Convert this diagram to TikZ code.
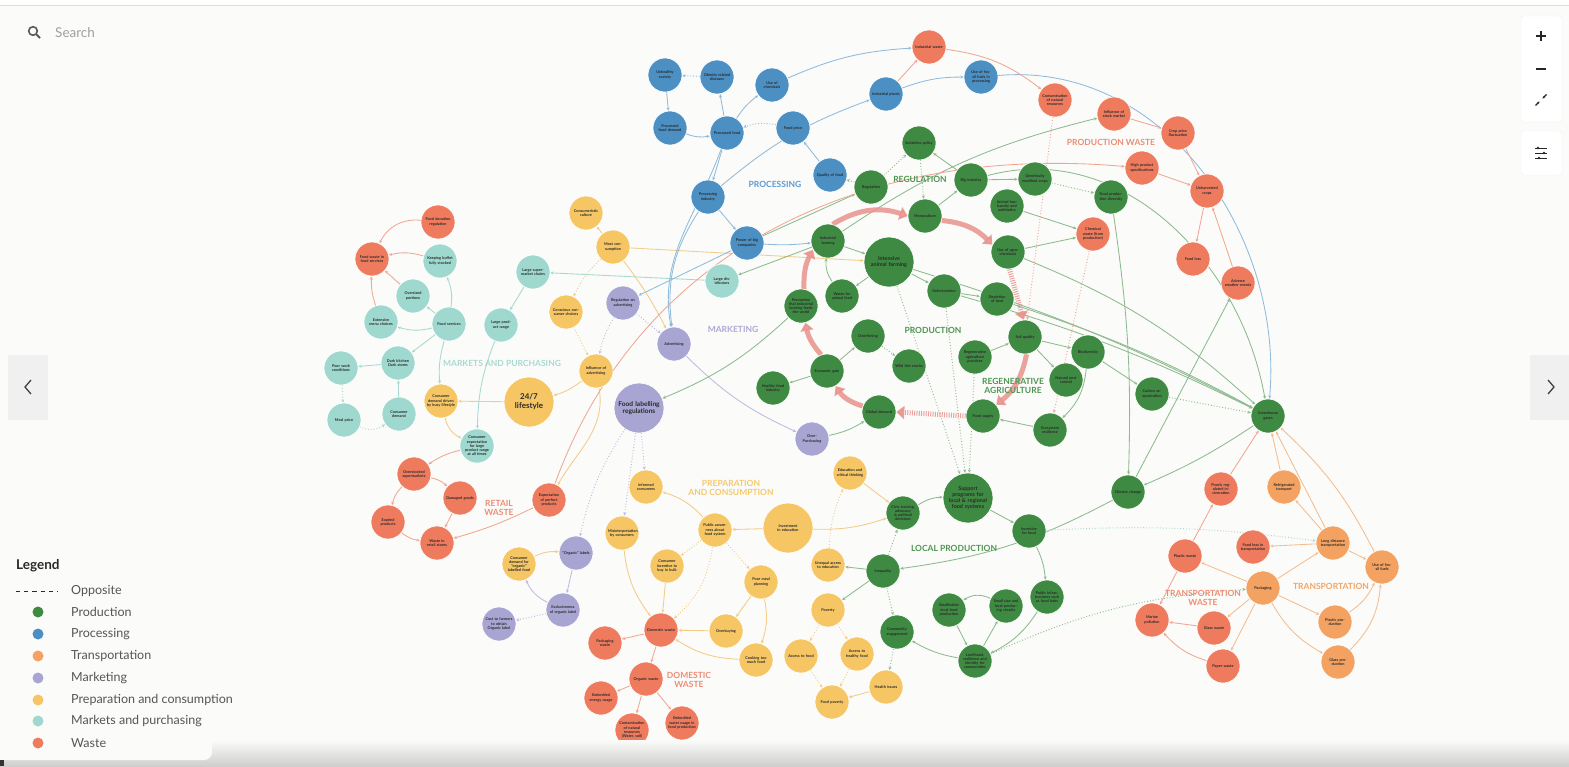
\documentclass[tikz,border=0pt]{standalone}
\usepackage{fontspec}
\setmainfont{Lato}
\usetikzlibrary{arrows.meta,calc}
\definecolor{bgc}{HTML}{FBFBF9}
\definecolor{cP}{HTML}{3E8A42}
\definecolor{cB}{HTML}{4B8FC3}
\definecolor{cT}{HTML}{F3A261}
\definecolor{cM}{HTML}{A8A5D3}
\definecolor{cY}{HTML}{F6C665}
\definecolor{cK}{HTML}{9ED8CE}
\definecolor{cW}{HTML}{EE7B5E}
\definecolor{lP}{HTML}{8DBA8F}
\definecolor{lB}{HTML}{90BBDC}
\definecolor{lT}{HTML}{F4BD90}
\definecolor{lM}{HTML}{BFBBE0}
\definecolor{lY}{HTML}{F3CC88}
\definecolor{lK}{HTML}{A6D9D0}
\definecolor{lW}{HTML}{F1A693}
\definecolor{tP}{HTML}{4E9552}
\definecolor{tB}{HTML}{5B9BD0}
\definecolor{tT}{HTML}{F2A566}
\definecolor{tM}{HTML}{ACA8D6}
\definecolor{tY}{HTML}{F5C86E}
\definecolor{tK}{HTML}{A6DAD2}
\definecolor{tW}{HTML}{EC8C75}
\definecolor{txt}{HTML}{2A2A2A}
\definecolor{thk}{HTML}{E9928C}
\definecolor{legtxt}{HTML}{555555}
\newcommand\nf{\fontsize{3.8}{4.2}\selectfont\bfseries}
\pgfdeclarelayer{back}
\pgfdeclarelayer{edges}
\pgfsetlayers{back,edges,main}
\tikzset{
 n/.style={circle, inner sep=0pt, minimum size=34pt, text width=28pt, align=center, font=\nf, text=txt, draw=white, line width=0.6pt},
 gP/.style={n, fill=cP}, gB/.style={n, fill=cB}, gT/.style={n, fill=cT}, gM/.style={n, fill=cM},
 gY/.style={n, fill=cY}, gK/.style={n, fill=cK}, gW/.style={n, fill=cW},
 bignode/.style={minimum size=50pt, text width=40pt},
 lab/.style={font=\fontsize{8.5}{9.4}\selectfont\bfseries, align=center},
 ar/.style={-{Stealth[length=3.4pt,width=3pt]}, line width=0.85pt},
 eP/.style={ar, draw=lP}, eB/.style={ar, draw=lB}, eT/.style={ar, draw=lT}, eM/.style={ar, draw=lM},
 eY/.style={ar, draw=lY}, eK/.style={ar, draw=lK}, eW/.style={ar, draw=lW},
 dt/.style={dotted, line width=1pt},
 tk/.style={draw=thk, line width=5pt, -{Triangle[length=8pt,width=13pt]}, draw opacity=0.85, fill opacity=0.85},
 tkd/.style={tk, dash pattern=on 1pt off 1.3pt},
 legt/.style={anchor=west, font=\fontsize{12.5}{14}\selectfont, text=legtxt, inner sep=0pt},
}
\begin{document}
\begin{tikzpicture}[x=1pt,y=-1pt]
\useasboundingbox (0,0) rectangle (1569,766);
\begin{pgfonlayer}{back}
\fill[bgc] (0,0) rectangle (1569,766);
\fill[white] (0,0) rectangle (1569,5);
\draw[gray!25] (0,5) -- (1569,5);
\end{pgfonlayer}

% ---------------- Markets and purchasing
\node[gW] (fdr) at (438,222) {Food donation regulation};
\node[gW] (fwfs) at (372,259) {Food waste in food services};
\node[gK] (kbfs) at (440,261) {Keeping buffet fully stocked};
\node[gK] (osp) at (413,296) {Oversized portions};
\node[gK] (emc) at (381,322) {Extensive menu choices};
\node[gK] (fsv) at (449,324) {Food services};
\node[gK] (dkd) at (398,363) {Dark kitchen Dark stores};
\node[gK] (pwc) at (341,368) {Poor work conditions};
\node[gK] (mpr) at (344,420) {Meal price};
\node[gK] (cdm) at (399,414) {Consumer demand};
\node[gY] (cdb) at (441,401) {Consumer demand driven by busy lifestyle};
\node[gY, bignode, font=\fontsize{8}{9}\selectfont\bfseries, text width=46pt] (l247) at (529,402) {24/7 lifestyle};
\node[gK] (cel) at (477,446) {Consumer expectation for large product range at all times};
\node[gK] (lpr) at (501,325) {Large product range};
\node[gK] (lsc) at (533,272) {Large supermarket chains};
\node[gY] (ccu) at (586,213) {Consumeristic culture};
\node[gY] (mcn) at (613,247) {Meat consumption};
\node[gY] (ccc) at (566,312) {Conscious consumer choices};
\node[gY] (iad) at (596,371) {Influence of advertising};
\node[gM] (rad) at (623,303) {Regulation on advertising};
\node[gM] (adv) at (674,344) {Advertising};
\node[gK] (ldi) at (722,281) {Large distributors};
\node[gM, bignode, font=\fontsize{6.6}{7.4}\selectfont\bfseries, text width=46pt] (flr) at (639,408) {Food labelling regulations};
\node[gM] (ovp) at (812,439) {Over-Purchasing};

% ---------------- Retail waste
\node[gW] (oss) at (414,474) {Overstocked supermarkets};
\node[gW] (dgo) at (460,498) {Damaged goods};
\node[gW] (exp) at (388,522) {Expired products};
\node[gW] (wrs) at (437,543) {Waste in retail stores};
\node[gW] (epp) at (549,500) {Expectation of perfect products};

% ---------------- Preparation and consumption
\node[gY] (inc) at (646,487) {Informed consumers};
\node[gY] (cdo) at (519,564) {Consumer demand for ``organic'' labelled food};
\node[gM] (olb) at (576,553) {``Organic'' labels};
\node[gM] (exo) at (563,610) {Exclusiveness of organic label};
\node[gM] (ctf) at (499,624) {Cost to farmers to obtain Organic label};
\node[gY] (mis) at (622,533) {Misinterpretation by consumers};
\node[gY] (pas) at (715,530) {Public awareness about food system};
\node[gY, bignode] (ied) at (788,528) {Investment in education};
\node[gY] (cib) at (667,566) {Consumer incentive to buy in bulk};
\node[gY] (ect) at (850,473) {Education and critical thinking};
\node[gY] (pmp) at (761,582) {Poor meal planning};
\node[gY] (ovb) at (726,631) {Overbuying};
\node[gY] (ctm) at (756,660) {Cooking too much food};
\node[gW] (dws) at (661,630) {Domestic waste};
\node[gW] (pkw) at (605,643) {Packaging waste};
\node[gW] (orw) at (646,679) {Organic waste};
\node[gW] (eeu) at (601,698) {Embedded energy usage};
\node[gW] (cnrb) at (632,730) {Contamination of natural resources (Water, soil)};
\node[gW] (ewu) at (682,723) {Embedded water usage in food production};
\node[gY] (uae) at (828,565) {Unequal access to education};
\node[gY] (pov) at (828,610) {Poverty};
\node[gY] (atf) at (801,656) {Access to food};
\node[gY] (ahf) at (857,654) {Access to healthy food};
\node[gY] (fpv) at (832,702) {Food poverty};
\node[gY] (his) at (886,687) {Health issues};

% ---------------- Local production
\node[gP] (cta) at (903,513) {Civic training, advocacy \& political decisions};
\node[gP, bignode, font=\fontsize{5.4}{6}\selectfont\bfseries] (spl) at (968,498) {Support programs for local \& regional food systems};
\node[gP] (ifl) at (1029,531) {Incentive for local};
\node[gP] (ineq) at (883,571) {Inequality};
\node[gP] (pif) at (1047,597) {Public infrastructures such as food hubs};
\node[gP] (ssc) at (1006,606) {Small size and local producing circuits};
\node[gP] (slf) at (949,610) {Smallholder local food production};
\node[gP] (ceg) at (897,632) {Community engagement};
\node[gP] (lrc) at (975,661) {Livelihood, resilience and identity for communities};

% ---------------- Production
\node[gP] (ifa) at (828,241) {Industrial farming};
\node[gP, bignode, font=\fontsize{5.4}{6}\selectfont\bfseries] (iaf) at (889,262) {Intensive animal farming};
\node[gP] (mon) at (925,216) {Monoculture};
\node[gP] (uag) at (1008,252) {Use of agrochemicals};
\node[gP] (waf) at (842,296) {Waste for animal feed};
\node[gP] (per) at (801,306) {Perception that industrial farming feeds the world};
\node[gP] (def) at (944,291) {Deforestation};
\node[gP] (dol) at (997,299) {Depletion of land};
\node[gP] (ovf) at (868,336) {Overfishing};
\node[gP] (wfs) at (909,366) {Wild fish stocks};
\node[gP] (egn) at (827,371) {Economic gain};
\node[gP] (hfi) at (773,388) {Healthy food industry};
\node[gP] (gdm) at (879,412) {Global demand};
\node[gP] (soq) at (1025,337) {Soil quality};
\node[gP] (rap) at (975,357) {Regenerative agriculture practices};
\node[gP] (bio) at (1088,352) {Biodiversity};
\node[gP] (npc) at (1066,380) {Natural pest control};
\node[gP] (fsu) at (983,416) {Food supply};
\node[gP] (ecr) at (1050,430) {Ecosystem resilience};
\node[gP] (csq) at (1152,394) {Carbon sequestration};
\node[gP] (ghg) at (1268,416) {Greenhouse gases};
\node[gP] (clc) at (1128,492) {Climate change};

% ---------------- Regulation
\node[gP] (sub) at (919,143) {Subsidies policy};
\node[gP] (reg) at (871,187) {Regulation};
\node[gP] (big) at (971,180) {Big industry};
\node[gP] (gmc) at (1035,179) {Genetically modified crops};
\node[gP] (ahb) at (1007,206) {Animal husbandry and antibiotics};
\node[gP] (fpd) at (1111,197) {Food production diversity};

% ---------------- Production waste
\node[gW] (iws) at (929,47) {Industrial waste};
\node[gW] (cnr) at (1055,100) {Contamination of natural resources};
\node[gW] (ism) at (1114,114) {Influence of stock market};
\node[gW] (cpf) at (1178,133) {Crop price fluctuation};
\node[gW] (hps) at (1142,168) {High product specifications};
\node[gW] (uhc) at (1207,191) {Unharvested crops};
\node[gW] (chw) at (1093,234) {Chemical waste (from production)};
\node[gW] (fls) at (1193,259) {Food loss};
\node[gW] (awe) at (1238,283) {Adverse weather events};

% ---------------- Processing
\node[gB] (uhs) at (665,75) {Unhealthy society};
\node[gB] (ord) at (717,77) {Obesity related diseases};
\node[gB] (uch) at (772,85) {Use of chemicals};
\node[gB] (pfd) at (670,128) {Processed food demand};
\node[gB] (pfo) at (727,133) {Processed food};
\node[gB] (fpr) at (793,128) {Food price};
\node[gB] (qof) at (830,175) {Quality of food};
\node[gB] (pin) at (708,197) {Processing industry};
\node[gB] (pbc) at (747,243) {Power of big companies};
\node[gB] (ipl) at (886,94) {Industrial plants};
\node[gB] (uff) at (981,77) {Use of fossil fuels in processing};

% ---------------- Transportation
\node[gT] (rtr) at (1284,487) {Refrigerated transport};
\node[gT] (ldt) at (1333,543) {Long distance transportation};
\node[gT] (uft) at (1382,567) {Use of fossil fuels};
\node[gT] (pkg) at (1263,588) {Packaging};
\node[gT] (ppr) at (1335,622) {Plastic production};
\node[gT] (gpr) at (1338,662) {Glass production};
\node[gW] (pri) at (1221,489) {Poorly regulated incineration};
\node[gW] (flt) at (1253,547) {Food loss in transportation};
\node[gW] (plw) at (1185,556) {Plastic waste};
\node[gW] (mpo) at (1152,620) {Marine pollution};
\node[gW] (glw) at (1214,628) {Glass waste};
\node[gW] (pap) at (1223,666) {Paper waste};

% ---------------- Group labels
\node[lab, text=tB] (Lproc) at (775,184) {PROCESSING};
\node[lab, text=tP] (Lreg) at (920,179) {REGULATION};
\node[lab, text=tW] (Lpw) at (1111,142) {PRODUCTION WASTE};
\node[lab, text=tP] (Lprod) at (933,330) {PRODUCTION};
\node[lab, text=tP] (Lregen) at (1013,386) {REGENERATIVE\\AGRICULTURE};
\node[lab, text=tM] (Lmark) at (733,329) {MARKETING};
\node[lab, text=tK] (Lmkt) at (502,363) {MARKETS AND PURCHASING};
\node[lab, text=tW] (Lrw) at (499,508) {RETAIL\\WASTE};
\node[lab, text=tY] (Lprep) at (731,488) {PREPARATION\\AND CONSUMPTION};
\node[lab, text=tW] (Ldw) at (689,680) {DOMESTIC\\WASTE};
\node[lab, text=tP] (Llp) at (954,548) {LOCAL PRODUCTION};
\node[lab, text=tW] (Ltw) at (1203,598) {TRANSPORTATION\\WASTE};
\node[lab, text=tT] (Ltr) at (1331,586) {TRANSPORTATION};

\begin{pgfonlayer}{edges}
% markets
\draw[eW] (fdr) to[bend right=35] (fwfs);
\draw[eW] (kbfs) to[bend right=15] (fwfs);
\draw[eW] (osp) -- (fwfs);
\draw[eW] (emc) to[bend left=10] (fwfs);
\draw[eK] (fsv) to[bend right=15] (kbfs);
\draw[eK] (fsv) -- (osp);
\draw[eK] (fsv) to[bend left=15] (emc);
\draw[eK] (fsv) -- (dkd);
\draw[eK] (dkd) -- (pwc);
\draw[eK] (cdm) -- (dkd);
\draw[eK,dt] (pwc) -- (mpr);
\draw[eK,dt] (mpr) to[bend right=30] (cdm);
\draw[eK] (fsv) to[bend right=10] (cdb);
\draw[eY] (l247) -- (cdb);
\draw[eY] (cdb) to[bend right=25] (cel);
\draw[eK] (lpr) to[bend right=10] (cel);
\draw[eK] (lsc) -- (lpr);
\draw[eK] (ldi) -- (lsc);
\draw[eW] (cel) to[bend right=10] (oss);
\draw[eY] (iad) to[bend left=10] (l247);
\draw[eY,dt] (ccc) -- (iad);
\draw[eM,dt] (rad) to[bend right=10] (iad);
\draw[eY] (mcn) -- (ccu);
\draw[eY,dt] (mcn) to[bend right=10] (ccc);
\draw[eY] (mcn) to[bend left=5] (adv);
\draw[eY] (mcn) -- (iaf);
\draw[eM] (adv) to[bend right=10] (ovp);
\draw[eB] (pbc) -- (rad);
\draw[eB] (pin) to[bend right=20] (adv);
\draw[eB] (pfo) to[out=250,in=100] (adv);
\draw[eM,dt] (rad) -- (adv);
\draw[eY] (iad) to[out=-80,in=60] (epp);
\draw[eW] (epp) to[bend left=5] (wrs);
\draw[eW] (oss) to[bend left=15] (dgo);
\draw[eW] (oss) to[bend right=15] (exp);
\draw[eW] (dgo) -- (wrs);
\draw[eW] (exp) to[bend right=15] (wrs);
\draw[eM,dt] (flr) -- (mis);
\draw[eM,dt] (flr) -- (inc);
\draw[eM,dt] (flr) to[bend right=10] (olb);
\draw[eP] (per) to[bend left=10] (flr);
\draw[eP] (ifa) -- (ldi);
% processing
\draw[eB,dt] (ord) -- (uhs);
\draw[eB] (uhs) -- (pfd);
\draw[eB] (pfd) to[bend right=15] (pfo);
\draw[eB] (pfo) -- (ord);
\draw[eB] (pfo) to[bend left=10] (uch);
\draw[eB,dt] (fpr) to[bend right=15] (pfo);
\draw[eB] (qof) -- (fpr);
\draw[eB] (pfo) -- (pin);
\draw[eB] (pin) -- (pbc);
\draw[eB] (pbc) to[bend right=5] (ifa);
\draw[eB] (uch) to[bend left=10] (iws);
\draw[eW] (ipl) -- (iws);
\draw[eB] (ipl) to[bend left=10] (uff);
\draw[eB] (uff) to[out=5,in=85] (ghg);
\draw[eB] (pin) to[bend left=10] (ipl);
\draw[eP,dt] (reg) -- (qof);
% regulation
\draw[eP,dt] (reg) -- (sub);
\draw[eP] (big) -- (sub);
\draw[eP,dt] (sub) -- (mon);
\draw[eP] (big) -- (gmc);
\draw[eP] (mon) -- (big);
\draw[eP,dt] (gmc) -- (fpd);
\draw[eP] (ahb) -- (chw);
\draw[eP] (uag) -- (chw);
\draw[eP] (pbc) -- (reg);
% production
\draw[eP] (ifa) -- (iaf);
\draw[eP] (iaf) -- (waf);
\draw[eP] (waf) to[bend left=20] (ifa);
\draw[eP] (iaf) -- (def);
\draw[eP] (def) -- (dol);
\draw[eP] (iaf) to[bend left=5] (ghg);
\draw[eP] (def) to[bend left=5] (ghg);
\draw[eP] (dol) to[bend left=5] (ghg);
\draw[eP] (uag) to[bend left=10] (ghg);
\draw[eP] (big) to[out=15,in=100] (ghg);
\draw[eP] (egn) -- (hfi);
\draw[eP] (egn) -- (ovf);
\draw[eP,dt] (ovf) -- (wfs);
\draw[eP] (ovp) to[bend right=10] (gdm);
\draw[eP] (rap) -- (soq);
\draw[eP] (soq) -- (bio);
\draw[eP] (soq) -- (npc);
\draw[eP] (bio) to[bend left=20] (ecr);
\draw[eP] (ecr) -- (fsu);
\draw[eP,dt] (csq) -- (ghg);
\draw[eP] (bio) -- (csq);
\draw[eP] (ghg) to[bend left=5] (clc);
\draw[eP] (clc) to[bend left=10] (ineq);
\draw[eP] (fpd) to[bend left=5] (clc);
\draw[eP] (clc) -- (awe);
\draw[eK,dt] (ifl) to[bend left=5] (ldt);
\draw[eP,dt] (lrc) to[bend left=10] (pkg);
\draw[eW,dt] (cnr) -- (soq);
\draw[eW,dt] (chw) -- (ecr);
\draw[eP,dt] (iaf) -- (spl);
\draw[eP,dt] (def) -- (spl);
\draw[eP,dt] (rap) -- (spl);
\draw[eP] (ifa) to[bend left=10] (ism);
% local production
\draw[eY] (ect) -- (cta);
\draw[eY] (ied) to[bend right=10] (cta);
\draw[eP] (cta) to[bend left=15] (spl);
\draw[eP] (spl) -- (ifl);
\draw[eP] (ifl) to[bend left=10] (pif);
\draw[eP] (pif) to[bend left=15] (lrc);
\draw[eP] (lrc) to[bend left=10] (ceg);
\draw[eP] (lrc) -- (ssc);
\draw[eP] (ssc) to[bend right=30] (slf);
\draw[eP] (slf) -- (lrc);
\draw[eP] (ineq) -- (uae);
\draw[eP] (ineq) -- (pov);
\draw[eP,dt] (ineq) -- (cta);
\draw[eP,dt] (ineq) -- (ceg);
\draw[eP,dt] (ceg) -- (his);
\draw[eY,dt] (uae) to[bend left=10] (ect);
\draw[eY,dt] (pov) -- (atf);
\draw[eY,dt] (pov) -- (ahf);
\draw[eY,dt] (atf) -- (fpv);
\draw[eY,dt] (ahf) -- (fpv);
\draw[eY] (his) -- (fpv);
% preparation
\draw[eY] (pas) to[bend right=15] (inc);
\draw[eY] (ied) -- (pas);
\draw[eY,dt] (pas) -- (cib);
\draw[eY,dt] (pas) -- (pmp);
\draw[eY,dt] (pas) to[bend left=20] (dws);
\draw[eY] (pmp) -- (ovb);
\draw[eY] (pmp) to[bend left=15] (ctm);
\draw[eY] (ovb) -- (dws);
\draw[eY] (ctm) to[bend left=15] (dws);
\draw[eY] (cib) -- (dws);
\draw[eY] (mis) to[bend right=15] (dws);
\draw[eW] (dws) -- (pkw);
\draw[eW] (dws) -- (orw);
\draw[eW] (orw) -- (eeu);
\draw[eW] (orw) -- (cnrb);
\draw[eW] (orw) -- (ewu);
\draw[eY] (cdo) to[bend left=15] (olb);
\draw[eM] (olb) -- (exo);
\draw[eM] (exo) to[bend left=20] (cdo);
\draw[eM,dt] (exo) -- (ctf);
% transportation
\draw[eT] (ldt) -- (rtr);
\draw[eT] (ldt) -- (flt);
\draw[eT] (ldt) -- (uft);
\draw[eT] (pkg) -- (ldt);
\draw[eT] (pkg) -- (plw);
\draw[eW] (plw) -- (pri);
\draw[eW] (plw) -- (mpo);
\draw[eT] (pkg) -- (glw);
\draw[eT] (pkg) -- (pap);
\draw[eW] (glw) -- (mpo);
\draw[eW] (pap) to[bend left=15] (mpo);
\draw[eT] (pkg) -- (ppr);
\draw[eT] (pkg) to[bend right=15] (gpr);
\draw[eT] (ppr) to[bend right=15] (uft);
\draw[eT] (gpr) to[bend right=20] (uft);
\draw[eW] (pri) -- (ghg);
\draw[eT] (rtr) -- (ghg);
\draw[eT] (ldt) -- (ghg);
\draw[eT] (uft) to[bend right=10] (ghg);
% production waste
\draw[eW] (iws) to[bend left=15] (cnr);
\draw[eW] (awe) -- (uhc);
\draw[eW] (ism) -- (cpf);
\draw[eW] (cpf) -- (uhc);
\draw[eW] (hps) -- (uhc);
\draw[eW] (uhc) -- (fls);
\draw[eW] (epp) to[out=70,in=175] (hps);
% thick cycle
\draw[tk] (ifa.75) to[bend left=25] (mon.180);
\draw[tk] (mon.-15) to[bend left=20] (uag.155);
\draw[tkd] (uag.-85) -- (soq.95);
\draw[tk] (soq.-85) to[bend left=20] (fsu.40);
\draw[tkd] (fsu.180) -- (gdm.0);
\draw[tk] (gdm.160) to[bend left=20] (egn.-60);
\draw[tk] (egn.110) to[bend left=15] (per.-75);
\draw[tk] (per.80) to[bend left=15] (ifa.210);
\end{pgfonlayer}

% ---------------- UI
\shade[top color=bgc, bottom color=gray!38] (0,740) rectangle (1569,766);
\fill[bgc, rounded corners=8pt] (-10,540) rectangle (212,760);
\fill[black!80] (0,760) rectangle (4,766);
\draw[gray!70!black, line width=1.6pt] (33,31) circle (4.3);
\draw[gray!70!black, line width=1.8pt] (36.3,34.3) -- (40,38);
\node[anchor=west, font=\fontsize{13.5}{15}\selectfont, text=gray!75, inner sep=0pt] (search) at (55,33) {Search};
\fill[gray!12] (8,355) rectangle (48,420);
\draw[gray!50!black, line width=1.3pt] (31,380) -- (25,387) -- (31,394);
\fill[gray!12] (1530,355) rectangle (1569,420);
\draw[gray!50!black, line width=1.3pt] (1548,380) -- (1554,387) -- (1548,394);
\filldraw[fill=white, draw=gray!12, rounded corners=3pt] (1521,16) rectangle (1562,122);
\filldraw[fill=white, draw=gray!12, rounded corners=3pt] (1521,131) rectangle (1562,175);
\draw[gray!30!black, line width=1.8pt] (1536,36) -- (1546,36) (1541,31) -- (1541,41);
\draw[gray!30!black, line width=1.8pt] (1536,69) -- (1546,69);
\draw[gray!30!black, line width=1.1pt, -{Stealth[length=2.4pt,width=2.6pt]}] (1535.5,105.5) -- (1539.5,101.5);
\draw[gray!30!black, line width=1.1pt, -{Stealth[length=2.4pt,width=2.6pt]}] (1546.5,94.5) -- (1542.5,98.5);
\draw[gray!30!black, line width=0.8pt] (1535,148) -- (1547,148) (1535,153) -- (1547,153) (1535,158) -- (1547,158);
\fill[gray!30!black] (1538,148) circle (1.3) (1544,153) circle (1.3) (1539,158) circle (1.3);

% ---------------- Legend
\node[anchor=west, font=\fontsize{13.5}{15}\selectfont\bfseries, text=txt, inner sep=0pt] (leg) at (16,566) {Legend};
\draw[txt, line width=1pt, dash pattern=on 4.2pt off 4pt] (16,591) -- (58,591);
\node[legt] (l0) at (71,591) {Opposite};
\fill[cP] (38,612) circle (5.5); \node[legt] (l1) at (71,612) {Production};
\fill[cB] (38,634) circle (5.5); \node[legt] (l2) at (71,634) {Processing};
\fill[cT] (38,656) circle (5.5); \node[legt] (l3) at (71,656) {Transportation};
\fill[cM] (38,678) circle (5.5); \node[legt] (l4) at (71,678) {Marketing};
\fill[cY] (38,700) circle (5.5); \node[legt] (l5) at (71,700) {Preparation and consumption};
\fill[cK] (38,721) circle (5.5); \node[legt] (l6) at (71,721) {Markets and purchasing};
\fill[cW] (38,743) circle (5.5); \node[legt] (l7) at (71,743) {Waste};
\end{tikzpicture}
\end{document}
